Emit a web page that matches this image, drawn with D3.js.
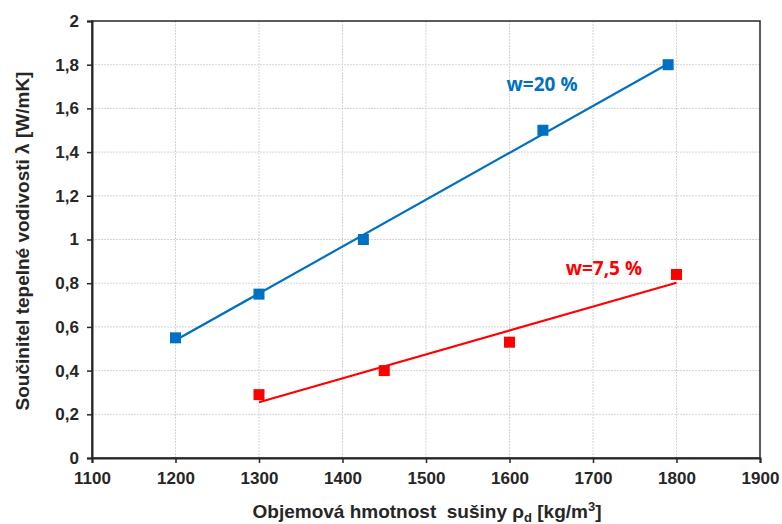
<!DOCTYPE html>
<html><head><meta charset="utf-8">
<script src="https://cdn.jsdelivr.net/npm/d3@7"></script>
<style>body{margin:0;background:#fff}svg{display:block;font-family:"Liberation Sans",Arial,sans-serif}</style>
</head><body><svg id="c" width="782" height="524"></svg>
<script>
const xTicks = [1100,1200,1300,1400,1500,1600,1700,1800,1900];
const yTicks = [0,0.2,0.4,0.6,0.8,1,1.2,1.4,1.6,1.8,2];
const blueX = [1200,1300,1425,1640,1790];
const blueY = [0.55,0.75,1.0,1.5,1.8];
const redX = [1300,1450,1600,1800];
const redY = [0.29,0.40,0.53,0.84];
const blueLabel = "w=20 %";
const redLabel = "w=7,5 %";

const svg = d3.select("#c");
const L=92,R=760,T=21,B=458;
const x = d3.scaleLinear().domain([1100,1900]).range([L,R]);
const y = d3.scaleLinear().domain([0,2]).range([B,T]);
const fmt = v => String(v).replace(".",",");

// grid
svg.append("g").selectAll("line").data(xTicks.slice(1,-1)).join("line")
  .attr("x1",d=>x(d)).attr("x2",d=>x(d)).attr("y1",T).attr("y2",B)
  .attr("stroke","#d4d4d4").attr("stroke-dasharray","2,1");
svg.append("g").selectAll("line").data(yTicks.slice(1,-1)).join("line")
  .attr("y1",d=>y(d)).attr("y2",d=>y(d)).attr("x1",L).attr("x2",R)
  .attr("stroke","#d4d4d4").attr("stroke-dasharray","2,1");

// frame
svg.append("rect").attr("x",L).attr("y",T).attr("width",R-L).attr("height",B-T)
  .attr("fill","none").attr("stroke","#262626").attr("stroke-width",1.5);

const xa = svg.append("g").attr("transform",`translate(0,${B})`)
  .call(d3.axisBottom(x).tickValues(xTicks).tickSize(5).tickPadding(9).tickFormat(d=>d));
const ya = svg.append("g").attr("transform",`translate(${L},0)`)
  .call(d3.axisLeft(y).tickValues(yTicks).tickSize(5).tickPadding(8).tickFormat(fmt));
[xa,ya].forEach(a=>{
  a.select(".domain").attr("stroke","#262626").attr("stroke-width",2);
  a.selectAll(".tick line").attr("stroke","#262626").attr("stroke-width",1.5);
  a.selectAll("text").attr("font-size",17).attr("font-weight","bold").attr("fill","#262626")
   .attr("font-family","Liberation Sans, Arial, sans-serif");
});

function fit(xs,ys){
  const n=xs.length, mx=d3.mean(xs), my=d3.mean(ys);
  let sxy=0,sxx=0; for(let i=0;i<n;i++){sxy+=(xs[i]-mx)*(ys[i]-my);sxx+=(xs[i]-mx)**2;}
  const m=sxy/sxx, b=my-m*mx;
  const x0=d3.min(xs), x1=d3.max(xs);
  return [[x0,m*x0+b],[x1,m*x1+b]];
}
function series(xs,ys,col){
  const line=d3.line().x(d=>x(d[0])).y(d=>y(d[1]));
  svg.append("path").attr("d",line(fit(xs,ys))).attr("stroke",col).attr("stroke-width",2.2).attr("fill","none");
  const s=11;
  svg.append("g").selectAll("rect").data(xs.map((v,i)=>[v,ys[i]])).join("rect")
    .attr("x",d=>x(d[0])-s/2).attr("y",d=>y(d[1])-s/2).attr("width",s).attr("height",s).attr("fill",col);
}
series(blueX,blueY,"#0070C0");
series(redX,redY,"#FF0000");

svg.append("text").attr("x",x(1639)).attr("y",y(1.68)).attr("text-anchor","middle")
  .attr("font-size",19).attr("font-weight","bold").attr("fill","#0070C0")
  .attr("font-family","Open Sans, Liberation Sans, sans-serif").text(blueLabel);
svg.append("text").attr("x",x(1713)).attr("y",y(0.838)).attr("text-anchor","middle")
  .attr("font-size",19).attr("font-weight","bold").attr("fill","#FF0000")
  .attr("font-family","Open Sans, Liberation Sans, sans-serif").text(redLabel);

svg.append("text").attr("x",427).attr("y",518).attr("text-anchor","middle").style("white-space","pre")
  .attr("font-size",19).attr("font-weight","bold").attr("fill","#262626")
  .html('Objemová hmotnost  sušiny ρ<tspan font-size="13" dy="4">d</tspan><tspan dy="-4"> [kg/m</tspan><tspan font-size="13" dy="-7">3</tspan><tspan dy="7">]</tspan>');
svg.append("text").attr("transform","translate(29,241) rotate(-90)").attr("text-anchor","middle")
  .attr("font-size",19).attr("font-weight","bold").attr("fill","#262626")
  .text("Součinitel tepelné vodivosti λ [W/mK]");
</script></body></html>
